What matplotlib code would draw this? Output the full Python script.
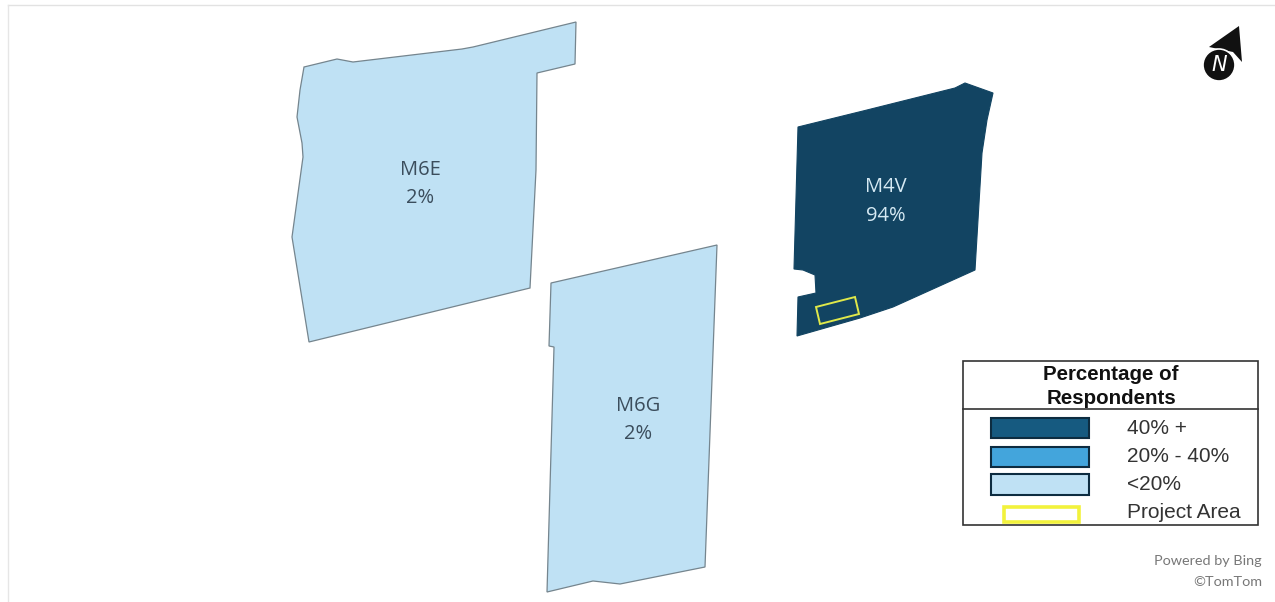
import matplotlib
matplotlib.use('Agg')
import matplotlib.pyplot as plt
from matplotlib.patches import Polygon, Rectangle, Circle

# outlines, in picture pixels
m6e_outline = [(304, 67), (337, 59), (353, 62), (462, 49), (473, 47), (576, 22), (575, 64),
               (537, 73), (536, 170), (530, 288), (309, 342), (292, 237), (303, 157),
               (302, 143), (297, 117), (300, 90)]
m6g_outline = [(551, 283), (717, 245), (705, 567), (620, 584), (593, 581), (547, 592),
               (554, 347), (549, 346)]
m4v_outline = [(798, 127), (863, 111), (955, 88), (965, 83), (993, 93), (987, 120), (982, 153),
               (975, 270), (893, 307), (860, 318), (797, 336), (798, 297), (816, 293),
               (815, 275), (803, 270), (794, 269)]
project_outline = [(816, 307), (855, 297), (859, 314), (820, 324)]

zones = ['M6E', 'M6G', 'M4V']
shares = ['2%', '2%', '94%']
legend_labels = ['40% +', '20% - 40%', '<20%', 'Project Area']

DARK = '#124462'
LEGEND_DARK = '#165a80'
MID = '#43a5dc'
LIGHT = '#bfe1f4'

fig = plt.figure(figsize=(12.75, 6.02), dpi=100)
ax = fig.add_axes([0, 0, 1, 1])
ax.set_xlim(0, 1275)
ax.set_ylim(602, 0)
ax.axis('off')

# faint frame of the map
ax.plot([8, 1275], [5, 5], color='#e2e2e2', lw=1)
ax.plot([8, 8], [5, 602], color='#e6e6e6', lw=1)

ax.add_patch(Polygon(m6e_outline, fc=LIGHT, ec='#75858e', lw=0.9))
ax.add_patch(Polygon(m6g_outline, fc=LIGHT, ec='#75858e', lw=0.9))
ax.add_patch(Polygon(m4v_outline, fc=DARK, ec=DARK, lw=0.8))
ax.add_patch(Polygon(project_outline, fc='none', ec='#dfe84a', lw=1.4))

label_font = dict(family='Open Sans', fontsize=14.5, ha='center', va='center')
ax.text(420, 170, zones[0], color='#3b4d5c', **label_font)
ax.text(420, 198, shares[0], color='#3b4d5c', **label_font)
ax.text(638, 406, zones[1], color='#3b4d5c', **label_font)
ax.text(638, 434, shares[1], color='#3b4d5c', **label_font)
ax.text(886, 187, zones[2], color='#d5e9f3', **label_font)
ax.text(886, 216, shares[2], color='#d5e9f3', **label_font)

# north arrow
ax.add_patch(Polygon([(1209, 47), (1239, 26), (1242, 62), (1233, 52)], fc='#111111', ec='none'))
ax.add_patch(Circle((1219, 65), 16, fc='#111111', ec='white', lw=1.2))
ax.text(1219, 65, 'N', color='white', fontsize=15, style='italic',
        family='DejaVu Sans', ha='center', va='center')

# legend
ax.add_patch(Rectangle((963, 361), 295, 164, fc='white', ec='#333333', lw=1.2))
ax.plot([963, 1258], [409, 409], color='#333333', lw=1.2)
ax.text(1111, 375, 'Percentage of', family='Liberation Sans', fontweight='bold', fontsize=14.8,
        ha='center', va='center', color='#111111')
ax.text(1111, 398, 'Respondents', family='Liberation Sans', fontweight='bold', fontsize=14.8,
        ha='center', va='center', color='#111111')

swatch_tops = [418, 447, 474]
swatch_heights = [20, 20, 21]
swatch_colors = [LEGEND_DARK, MID, LIGHT]
label_ys = [428, 456, 484, 513]
for top, height, color in zip(swatch_tops, swatch_heights, swatch_colors):
    ax.add_patch(Rectangle((991, top), 98, height, fc=color, ec='#0d2c40', lw=1.5))
ax.add_patch(Rectangle((1004, 507), 75, 15, fc='white', ec='#f2f23c', lw=2.6))
for y, text in zip(label_ys, legend_labels):
    ax.text(1127, y, text, family='Liberation Sans', fontsize=15, ha='left', va='center',
            color='#333333')

ax.text(1262, 561, 'Powered by Bing', family='Lato', fontsize=10.4, ha='right', va='center', color='#777777')
ax.text(1262, 582, '©TomTom', family='Lato', fontsize=10.4, ha='right', va='center', color='#777777')

fig.savefig('out.png', dpi=100)
